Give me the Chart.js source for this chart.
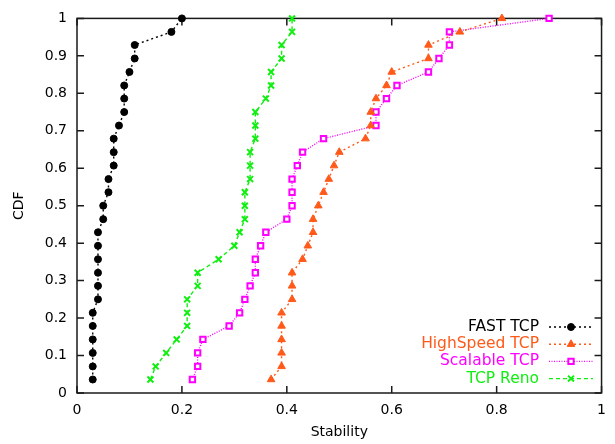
<!DOCTYPE html>
<html>
<head>
<meta charset="utf-8">
<script src="https://cdn.jsdelivr.net/npm/chart.js@4"></script>
<style>
  html, body { margin: 0; padding: 0; background: #fff; }
</style>
</head>
<body>
<canvas id="cdfChart" width="615" height="444"></canvas>
<script>
// cumulative fraction for the 28 samples of each protocol
const cdfLevels = [0.036, 0.071, 0.107, 0.143, 0.179, 0.214, 0.25, 0.286, 0.321, 0.357,
                   0.393, 0.429, 0.464, 0.5, 0.536, 0.571, 0.607, 0.643, 0.679, 0.714,
                   0.75, 0.786, 0.821, 0.857, 0.893, 0.929, 0.964, 1];

// sorted stability values per protocol
const fastTcp      = [0.03, 0.03, 0.03, 0.03, 0.03, 0.03, 0.04, 0.04, 0.04, 0.04, 0.04, 0.04, 0.05, 0.05,
                      0.06, 0.06, 0.07, 0.07, 0.07, 0.08, 0.09, 0.09, 0.09, 0.10, 0.11, 0.11, 0.18, 0.20];
const highSpeedTcp = [0.37, 0.39, 0.39, 0.39, 0.39, 0.39, 0.41, 0.41, 0.41, 0.43, 0.44, 0.45, 0.45, 0.46,
                      0.47, 0.48, 0.49, 0.50, 0.55, 0.56, 0.56, 0.57, 0.59, 0.60, 0.67, 0.67, 0.73, 0.81];
const scalableTcp  = [0.22, 0.23, 0.23, 0.24, 0.29, 0.31, 0.32, 0.33, 0.34, 0.34, 0.35, 0.36, 0.40, 0.41,
                      0.41, 0.41, 0.42, 0.43, 0.47, 0.57, 0.57, 0.59, 0.61, 0.67, 0.69, 0.71, 0.71, 0.90];
const tcpReno      = [0.14, 0.15, 0.17, 0.19, 0.21, 0.21, 0.21, 0.23, 0.23, 0.27, 0.30, 0.31, 0.32, 0.32,
                      0.32, 0.33, 0.33, 0.33, 0.34, 0.34, 0.34, 0.36, 0.37, 0.37, 0.39, 0.39, 0.41, 0.41];

const xTicks = [0, 0.2, 0.4, 0.6, 0.8, 1];
const yTicks = [0, 0.1, 0.2, 0.3, 0.4, 0.5, 0.6, 0.7, 0.8, 0.9, 1];

function toPoints(xs) {
  return xs.map((x, i) => ({x: x, y: cdfLevels[i]}));
}

Chart.defaults.font.family = '"DejaVu Sans", sans-serif';
Chart.defaults.color = '#000';

// gnuplot-style box with inward ticks on all four sides
const boxFrame = {
  id: 'boxFrame',
  beforeDatasetsDraw(chart) {
    const {ctx, chartArea: a, scales} = chart;
    const len = 7;
    ctx.save();
    ctx.strokeStyle = '#1a1a1a';
    ctx.lineWidth = 1.5;
    ctx.strokeRect(a.left, a.top, a.right - a.left, a.bottom - a.top);
    ctx.beginPath();
    xTicks.forEach(v => {
      const px = scales.x.getPixelForValue(v);
      ctx.moveTo(px, a.bottom); ctx.lineTo(px, a.bottom - len);
      ctx.moveTo(px, a.top); ctx.lineTo(px, a.top + len);
    });
    yTicks.forEach(v => {
      const py = scales.y.getPixelForValue(v);
      ctx.moveTo(a.left, py); ctx.lineTo(a.left + len, py);
      ctx.moveTo(a.right, py); ctx.lineTo(a.right - len, py);
    });
    ctx.stroke();
    ctx.restore();
  }
};

// key in the lower right: label first, then line sample with marker
const keyBox = {
  id: 'keyBox',
  afterDraw(chart) {
    const ctx = chart.ctx;
    const textRight = 539, lineL = 549, lineR = 593, top = 327, step = 17.2;
    ctx.save();
    ctx.font = '15.5px "DejaVu Sans"';
    ctx.textAlign = 'right';
    ctx.textBaseline = 'middle';
    chart.data.datasets.forEach((ds, i) => {
      const y = top + i * step;
      ctx.fillStyle = ds.borderColor;
      ctx.fillText(ds.label, textRight, y);
      ctx.strokeStyle = ds.borderColor;
      ctx.lineWidth = ds.borderWidth;
      ctx.setLineDash(ds.borderDash);
      ctx.beginPath();
      ctx.moveTo(lineL, y); ctx.lineTo(lineR, y);
      ctx.stroke();
      ctx.setLineDash([]);
      ctx.fillStyle = ds.pointBackgroundColor;
      ctx.strokeStyle = ds.pointBorderColor;
      ctx.lineWidth = ds.pointBorderWidth;
      Chart.helpers.drawPoint(ctx, {
        pointStyle: ds.pointStyle, radius: ds.pointRadius,
        borderWidth: ds.pointBorderWidth, rotation: 0
      }, (lineL + lineR) / 2, y);
    });
    ctx.restore();
  }
};

function series(label, xs, color, dash, style, radius, fill, bw) {
  return {
    label: label,
    data: toPoints(xs),
    showLine: true,
    borderColor: color,
    borderWidth: 1.4,
    borderDash: dash,
    pointStyle: style,
    pointRadius: radius,
    pointHoverRadius: radius,
    pointBackgroundColor: fill,
    pointBorderColor: color,
    pointBorderWidth: bw,
    clip: false
  };
}

const plainLabel = v => String(v);

new Chart(document.getElementById('cdfChart'), {
  type: 'scatter',
  data: {
    datasets: [
      series('FAST TCP', fastTcp, '#000000', [2, 3], 'circle', 3.5, '#000000', 1),
      series('HighSpeed TCP', highSpeedTcp, '#ff5a1a', [2, 3], 'triangle', 4.4, '#ff5a1a', 1),
      series('Scalable TCP', scalableTcp, '#ff00ff', [1, 1.5], 'rect', 3.8, '#ffffff', 2),
      series('TCP Reno', tcpReno, '#11ee11', [4, 3], 'crossRot', 4.2, '#11ee11', 2)
    ]
  },
  options: {
    responsive: false,
    animation: false,
    events: [],
    layout: {autoPadding: false, padding: {top: 15, right: 2, left: 0, bottom: 0}},
    plugins: {legend: {display: false}, tooltip: {enabled: false}},
    scales: {
      x: {
        type: 'linear', min: 0, max: 1,
        afterBuildTicks: s => { s.ticks = xTicks.map(v => ({value: v})); },
        afterFit: s => { s.height = 51; },
        grid: {display: false, drawTicks: false},
        border: {display: false},
        ticks: {padding: 9, font: {size: 14}, maxRotation: 0, callback: plainLabel},
        title: {display: true, text: 'Stability', font: {size: 14}, padding: {top: 0, bottom: 3}}
      },
      y: {
        type: 'linear', min: 0, max: 1,
        afterBuildTicks: s => { s.ticks = yTicks.map(v => ({value: v})); },
        afterFit: s => { s.width = 77; },
        grid: {display: false, drawTicks: false},
        border: {display: false},
        ticks: {padding: 10, font: {size: 14}, callback: plainLabel},
        title: {display: true, text: 'CDF', font: {size: 14}, padding: {top: 11, bottom: 0}}
      }
    }
  },
  plugins: [boxFrame, keyBox]
});
</script>
</body>
</html>
